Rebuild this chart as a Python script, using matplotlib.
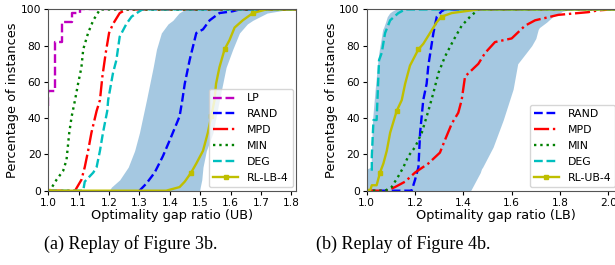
import matplotlib
matplotlib.use('Agg')
import matplotlib.pyplot as plt
import numpy as np

# ---- (a) Replay of Figure 3b : optimality gap ratio (UB) ----
a_lp_x = [1.0, 1.0, 1.022, 1.022, 1.044, 1.044, 1.077, 1.077, 1.104, 1.104, 1.6]
a_lp_y = [47, 55, 55, 82, 82, 93, 93, 98, 98, 100, 100]

a_rand_x = [1.30, 1.323, 1.35, 1.377, 1.40, 1.432, 1.441, 1.449, 1.465, 1.487, 1.509, 1.531, 1.563, 1.607, 1.629, 1.815]
a_rand_y = [0, 4, 10, 19, 28, 41, 50, 59, 72, 87, 89, 94, 98, 99, 100, 100]

a_mpd_x = [1.0, 1.088, 1.109, 1.12, 1.131, 1.142, 1.159, 1.17, 1.178, 1.189, 1.20, 1.213, 1.235, 1.257, 1.815]
a_mpd_y = [0, 0, 6, 13, 22, 32, 44, 50, 63, 76, 87, 92, 98, 100, 100]

a_min_x = [1.0, 1.005, 1.027, 1.049, 1.06, 1.069, 1.077, 1.088, 1.098, 1.109, 1.115, 1.131, 1.148, 1.17, 1.815]
a_min_y = [0, 0, 6, 11, 17, 32, 41, 50, 59, 68, 78, 87, 94, 100, 100]

a_deg_x = [1.0, 1.115, 1.12, 1.148, 1.159, 1.17, 1.18, 1.194, 1.197, 1.213, 1.224, 1.235, 1.257, 1.274, 1.30, 1.31, 1.815]
a_deg_y = [0, 0, 5, 10, 13, 22, 32, 44, 50, 65, 72, 85, 92, 96, 99, 100, 100]

a_rl_x = [1.0, 1.388, 1.432, 1.449, 1.47, 1.487, 1.509, 1.525, 1.536, 1.547, 1.552, 1.563, 1.58, 1.596, 1.613, 1.64, 1.673, 1.717, 1.815]
a_rl_y = [0, 0, 2, 5, 10, 15, 22, 32, 41, 50, 59, 68, 78, 83, 90, 94, 98, 100, 100]

a_band_y = [0, 2, 6, 13, 22, 32, 50, 68, 78, 87, 92, 94, 98, 100]
a_band_lo = [1.20, 1.208, 1.235, 1.263, 1.284, 1.30, 1.323, 1.345, 1.356, 1.372, 1.394, 1.41, 1.43, 1.45]
a_band_hi = [1.498, 1.50, 1.505, 1.509, 1.52, 1.542, 1.563, 1.585, 1.607, 1.629, 1.655, 1.673, 1.72, 1.79]

# ---- (b) Replay of Figure 4b : optimality gap ratio (LB) ----
b_rand_x = [1.0, 1.186, 1.20, 1.214, 1.221, 1.234, 1.248, 1.255, 1.276, 1.29, 1.31, 1.324, 2.07]
b_rand_y = [0, 0, 6, 13, 32, 50, 59, 69, 87, 96, 99, 100, 100]

b_mpd_x = [1.0, 1.083, 1.117, 1.159, 1.20, 1.255, 1.303, 1.324, 1.352, 1.379, 1.393, 1.407, 1.462, 1.49,
           1.531, 1.60, 1.655, 1.697, 1.793, 1.917, 1.959, 2.014, 2.07]
b_mpd_y = [0, 0, 2, 5, 10, 15, 21, 28, 37, 43, 50, 63, 70, 76, 82, 84, 91, 94, 97, 98.5, 99.5, 100, 100]

b_min_x = [1.0, 1.076, 1.103, 1.131, 1.152, 1.172, 1.20, 1.228, 1.255, 1.276, 1.297, 1.324, 1.359, 1.393, 1.428, 1.462, 2.07]
b_min_y = [0, 0, 2, 8, 13, 19, 24, 32, 44, 54, 65, 74, 83, 91, 96, 100, 100]

b_deg_x = [1.0, 1.0, 1.021, 1.021, 1.028, 1.041, 1.051, 1.062, 1.076, 1.097, 1.131, 1.159, 2.07]
b_deg_y = [0, 11, 11, 19, 39, 39, 72, 76, 87, 94, 98, 100, 100]

b_rl_x = [1.0, 1.014, 1.021, 1.041, 1.055, 1.069, 1.083, 1.097, 1.124, 1.145, 1.159, 1.179, 1.214, 1.234,
          1.262, 1.29, 1.31, 1.352, 1.407, 1.462, 2.07]
b_rl_y = [0, 0, 3, 3, 10, 15, 22, 32, 44, 50, 59, 69, 78, 81, 87, 93, 96, 98, 99, 100, 100]

b_band_y = [0, 5, 10, 12, 13, 24, 39, 56, 70, 76, 80, 84, 89, 90, 93, 96, 98, 99, 100]
b_band_lo = [1.0, 1.0, 1.0, 1.0, 1.018, 1.02, 1.024, 1.035, 1.045, 1.05, 1.055, 1.06, 1.066, 1.07, 1.078,
             1.085, 1.095, 1.105, 1.12]
b_band_hi = [1.43, 1.45, 1.47, 1.475, 1.48, 1.523, 1.565, 1.606, 1.625, 1.66, 1.683, 1.70, 1.71, 1.715,
             1.745, 1.77, 1.80, 1.81, 1.85]

plt.rcParams['font.family'] = 'DejaVu Sans'

fig = plt.figure(figsize=(6.15, 2.65), dpi=100)
ax1 = fig.add_axes([0.0785, 0.2804, 0.4028, 0.684])
ax2 = fig.add_axes([0.5963, 0.2804, 0.4203, 0.684])

lw = 1.7
band_col = (0.122, 0.467, 0.706, 0.4)


def setup(ax, xlim, xticks, xlabel):
    ax.set_xlim(*xlim)
    ax.set_ylim(0, 100)
    ax.set_xticks(xticks)
    ax.set_yticks([0, 20, 40, 60, 80, 100])
    ax.tick_params(labelsize=7.7, length=3, pad=2)
    ax.set_xlabel(xlabel, fontsize=9.3, labelpad=1)
    ax.set_ylabel('Percentage of instances', fontsize=9.3, labelpad=1)
    for s in ax.spines.values():
        s.set_color('#555555')


# (a)
ax1.fill_betweenx(a_band_y, a_band_lo, a_band_hi, color=band_col, linewidth=0)
ax1.plot(a_lp_x, a_lp_y, 'm--', lw=lw, label='LP')
ax1.plot(a_rand_x, a_rand_y, 'b--', lw=lw, label='RAND')
ax1.plot(a_mpd_x, a_mpd_y, 'r-.', lw=lw, label='MPD')
ax1.plot(a_min_x, a_min_y, 'g:', lw=lw, label='MIN')
ax1.plot(a_deg_x, a_deg_y, 'c--', lw=lw, label='DEG')
ax1.plot(a_rl_x, a_rl_y, 'y-', lw=lw, marker='s', markersize=2.5, markevery=4, label='RL-LB-4')
setup(ax1, (1.0, 1.815), np.arange(1.0, 1.81, 0.1), 'Optimality gap ratio (UB)')
ax1.legend(loc='lower right', fontsize=7.8, handlelength=2.3, borderaxespad=0.3, labelspacing=0.55)

# (b)
ax2.fill_betweenx(b_band_y, b_band_lo, b_band_hi, color=band_col, linewidth=0)
ax2.plot(b_rand_x, b_rand_y, 'b--', lw=lw, label='RAND')
ax2.plot(b_mpd_x, b_mpd_y, 'r-.', lw=lw, label='MPD')
ax2.plot(b_min_x, b_min_y, 'g:', lw=lw, label='MIN')
ax2.plot(b_deg_x, b_deg_y, 'c--', lw=lw, label='DEG')
ax2.plot(b_rl_x, b_rl_y, 'y-', lw=lw, marker='s', markersize=2.5, markevery=4, label='RL-UB-4')
setup(ax2, (1.0, 2.07), np.arange(1.0, 2.01, 0.2), 'Optimality gap ratio (LB)')
ax2.legend(loc='lower right', bbox_to_anchor=(0.975, 0.0), fontsize=7.8, handlelength=2.3,
           borderaxespad=0.3, labelspacing=0.55)

fig.text(0.2127, 0.079, '(a) Replay of Figure 3b.', ha='center', va='center',
         fontsize=13, family='Liberation Serif')
fig.text(0.655, 0.079, '(b) Replay of Figure 4b.', ha='center', va='center',
         fontsize=13, family='Liberation Serif')

fig.savefig('out.png', dpi=100)
